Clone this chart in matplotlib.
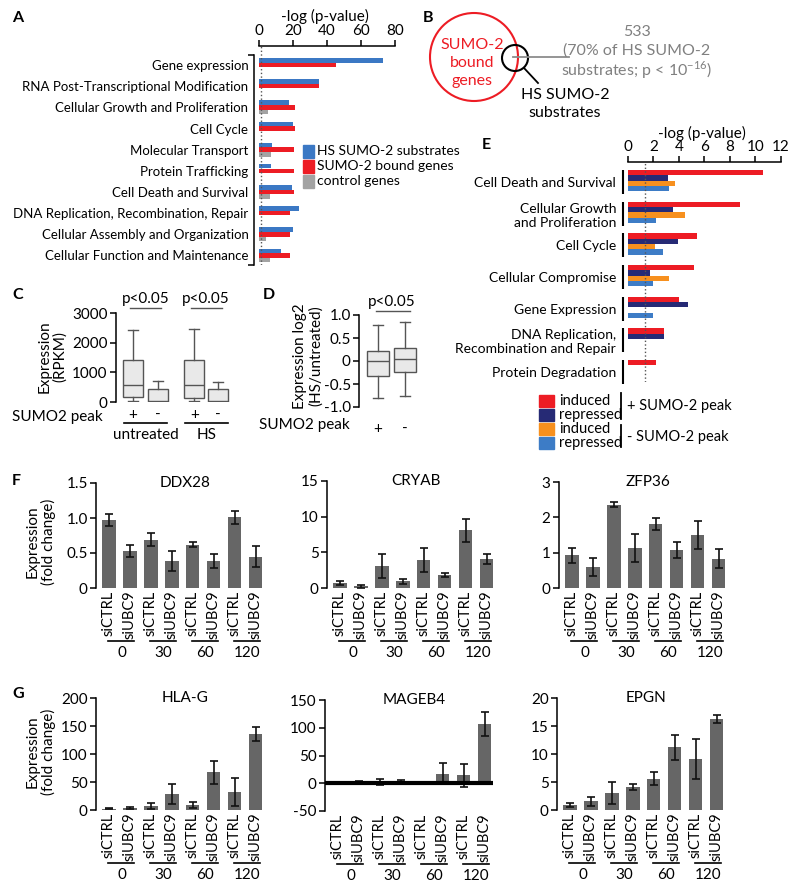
import matplotlib
matplotlib.use("Agg")
import matplotlib.pyplot as plt
from matplotlib.patches import Circle, Rectangle
from matplotlib.transforms import blended_transform_factory as blend
import numpy as np

plt.rcParams['font.family'] = ['Lato', 'DejaVu Sans']
plt.rcParams['font.size'] = 11
plt.rcParams['mathtext.fontset'] = 'custom'
plt.rcParams['mathtext.rm'] = 'Lato'
plt.rcParams['axes.linewidth'] = 1.1
plt.rcParams['xtick.major.width'] = 1.1
plt.rcParams['ytick.major.width'] = 1.1
plt.rcParams['ytick.minor.width'] = 1.1
plt.rcParams['xtick.major.size'] = 4
plt.rcParams['ytick.major.size'] = 4

# ---- data ----
# A: GO terms, -log(p)
a_terms = ["Gene expression", "RNA Post-Transcriptional Modification",
           "Cellular Growth and Proliferation", "Cell Cycle", "Molecular Transport",
           "Protein Trafficking", "Cell Death and Survival",
           "DNA Replication, Recombination, Repair",
           "Cellular Assembly and Organization", "Cellular Function and Maintenance"]
a_hs = [72.7, 35.2, 17.7, 20.2, 7.7, 7.3, 19.3, 23.4, 19.8, 12.8]
a_bound = [45.2, 35.2, 21.4, 21.2, 20.6, 20.6, 20.4, 18.1, 18.1, 18.1]
a_ctrl = [0, 0, 5.5, 0, 7.0, 0, 6.7, 0, 4.3, 6.7]
a_names = ["HS SUMO-2 substrates", "SUMO-2 bound genes", "control genes"]
a_colors = ["#3b78c4", "#ed1c24", "#a3a3a3"]

# B: overlap
b_overlap = 533
b_pct = 70

# C: expression boxplots (RPKM)
c_groups = ["untreated", "HS"]
c_peak = ["+", "-", "+", "-"]
c_whislo = [20, 0, 22, 0]
c_q1 = [169, 0, 146, 0]
c_med = [584, 20, 562, 22]
c_q3 = [1427, 450, 1427, 450]
c_whishi = [2439, 708, 2473, 674]

# D: log2 HS/untreated
d_peak = ["+", "-"]
d_whislo = [-0.80, -0.76]
d_q1 = [-0.32, -0.24]
d_med = [-0.01, 0.05]
d_q3 = [0.21, 0.28]
d_whishi = [0.78, 0.84]

# E
e_terms = ["Cell Death and Survival", "Cellular Growth\nand Proliferation", "Cell Cycle",
           "Cellular Compromise", "Gene Expression",
           "DNA Replication,\nRecombination and Repair", "Protein Degradation"]
e_ind_peak = [10.55, 8.77, 5.45, 5.15, 4.0, 2.8, 2.17]
e_rep_peak = [3.14, 3.5, 3.9, 1.7, 4.74, 2.8, 0]
e_ind_nopeak = [3.7, 4.5, 2.1, 3.25, 0, 0, 0]
e_rep_nopeak = [3.2, 2.17, 2.75, 1.96, 1.96, 0, 0]
e_colors = ["#ed1c24", "#262a75", "#f7901e", "#3d7cc6"]
e_names = ["induced", "repressed", "induced", "repressed"]

# F / G: qPCR
times = ["0", "30", "60", "120"]
conds = ["siCTRL", "siUBC9"]
ddx28 = [0.97, 0.53, 0.69, 0.39, 0.62, 0.39, 1.01, 0.45]
ddx28_err = [0.09, 0.09, 0.09, 0.14, 0.04, 0.10, 0.09, 0.15]
cryab = [0.75, 0.23, 3.04, 0.93, 3.9, 1.8, 8.1, 4.07]
cryab_err = [0.3, 0.2, 1.7, 0.4, 1.7, 0.25, 1.6, 0.75]
zfp36 = [0.92, 0.59, 2.36, 1.13, 1.82, 1.08, 1.5, 0.83]
zfp36_err = [0.21, 0.25, 0.06, 0.39, 0.17, 0.23, 0.39, 0.26]
hlag = [2, 3, 7.3, 28.5, 9, 67, 31.5, 136]
hlag_err = [1, 2, 5, 18, 6, 21, 25, 13]
mageb4 = [1, 2, 2, 3, 1, 17, 14, 107]
mageb4_err = [1, 2, 6, 3, 1, 19, 20, 22]
epgn = [0.9, 1.56, 3.0, 4.1, 5.6, 11.2, 9.1, 16.2]
epgn_err = [0.4, 0.8, 2.0, 0.6, 1.2, 2.2, 3.5, 0.7]

W, H = 800, 890
fig = plt.figure(figsize=(8, 8.9), dpi=100)


def box(l, t, r, b):
    ax = fig.add_axes([l / W, 1 - b / H, (r - l) / W, (b - t) / H])
    ax.px = (l, t, r, b)
    return ax


def yf(ax, ypix):
    l, t, r, b = ax.px
    return (b - ypix) / (b - t)


ov = fig.add_axes([0, 0, 1, 1], zorder=10)
ov.set_xlim(0, W)
ov.set_ylim(H, 0)
ov.axis('off')
ov.patch.set_alpha(0)

for lab, x, y in [("A", 12, 18), ("B", 423, 18), ("C", 12, 295), ("D", 263, 295),
                  ("E", 482, 145), ("F", 12, 481), ("G", 12, 694)]:
    ov.text(x, y, lab, fontsize=11.5, fontweight='bold', ha='left', va='center')

# ---- A ----
axA = box(254, 46, 395, 265)
ya = np.arange(len(a_terms))
for k, (vals, col) in enumerate(zip([a_hs, a_bound, a_ctrl], a_colors)):
    axA.barh(ya + (k - 1) * 0.22, vals, height=0.21, color=col)
axA.set_xlim(-3, 80)
axA.set_ylim(9.45, -0.9)
axA.xaxis.tick_top()
axA.set_xticks([0, 20, 40, 60, 80])
axA.xaxis.set_label_position('top')
axA.set_xlabel('-log (p-value)', labelpad=2)
axA.spines['top'].set_bounds(0, 80)
axA.spines[['right', 'bottom']].set_visible(False)
axA.spines['left'].set_bounds(-0.48, 9.45)
axA.set_yticks(ya, a_terms, fontsize=9.5)
axA.tick_params(axis='y', length=0, pad=4)
axA.set_yticks([-0.48, 9.45], minor=True)
axA.tick_params(axis='y', which='minor', length=4)
axA.tick_params(axis='x', pad=2)
axA.axvline(1.3, ls=':', color='#555555', lw=1)
for i, (nm, col) in enumerate(zip(a_names, a_colors)):
    yy = 151 + i * 15
    ov.add_patch(Rectangle((303, yy - 6.5), 11, 13, color=col))
    ov.text(317, yy, nm, fontsize=10, va='center', ha='left')

# ---- B ----
ov.add_patch(Circle((474, 57), 44, fill=False, ec='#ed1c24', lw=1.5))
ov.add_patch(Circle((515, 58), 13, fill=False, ec='k', lw=1.5))
ov.plot([513, 569], [57, 57], color='#8c8c8c', lw=1.3)
ov.plot([524, 538], [68, 83], color='k', lw=1.3)
for s, y in zip(["SUMO-2", "bound", "genes"], [45, 63, 81]):
    ov.text(472, y, s, color='#ed1c24', fontsize=11.5, ha='center', va='center')
ov.text(637, 32, str(b_overlap), color='#808080', fontsize=11.5, ha='center', va='center')
ov.text(637, 51, "(%d%% of HS SUMO-2" % b_pct, color='#808080', fontsize=11.5,
        ha='center', va='center')
ov.text(637, 70, r"substrates; p < 10$^{-16}$)", color='#808080', fontsize=11.5,
        ha='center', va='center')
ov.text(565, 95, "HS SUMO-2", fontsize=11.5, ha='center', va='center')
ov.text(565, 113, "substrates", fontsize=11.5, ha='center', va='center')

# ---- C ----
boxkw = dict(patch_artist=True, showfliers=False, manage_ticks=False,
             boxprops=dict(facecolor='#e9e9e9', edgecolor='#555555', lw=1),
             whiskerprops=dict(color='#555555', lw=1),
             capprops=dict(color='#555555', lw=1),
             medianprops=dict(color='#555555', lw=1))
axC = box(116, 313, 232, 402)
pos_c = [1, 2, 3.45, 4.4]
stats_c = [dict(med=m, q1=a, q3=b, whislo=lo, whishi=hi, fliers=[])
           for lo, a, m, b, hi in zip(c_whislo, c_q1, c_med, c_q3, c_whishi)]
axC.bxp(stats_c, positions=pos_c, widths=0.8, capwidths=0.4, **boxkw)
axC.set_xlim(0.32, 4.96)
axC.set_ylim(0, 3000)
axC.set_yticks([0, 1000, 2000, 3000])
axC.tick_params(axis='y', pad=2)
axC.spines[['right', 'top', 'bottom']].set_visible(False)
axC.set_xticks(pos_c, c_peak)
axC.tick_params(axis='x', length=0, pad=4)
tc = blend(axC.transData, axC.transAxes)
for g, name in enumerate(c_groups):
    cx = (pos_c[2 * g] + pos_c[2 * g + 1]) / 2
    axC.plot([cx - 0.86, cx + 0.86], [yf(axC, 423)] * 2, color='k', lw=1.2,
             transform=tc, clip_on=False)
    axC.text(cx, yf(axC, 435), name, transform=tc, ha='center', va='center')
    axC.plot([cx - 0.62, cx + 0.62], [yf(axC, 308)] * 2, color='#555555', lw=1,
             transform=tc, clip_on=False)
    axC.text(cx, yf(axC, 299), "p<0.05", transform=tc, ha='center', va='center')
ov.text(103, 417, "SUMO2 peak", ha='right', va='center')
ov.text(52, 357, "Expression\n(RPKM)", rotation=90, ha='center', va='center',
        multialignment='center', linespacing=1.1)

# ---- D ----
axD = box(359, 315, 422, 407)
pos_d = [1, 2]
stats_d = [dict(med=m, q1=a, q3=b, whislo=lo, whishi=hi, fliers=[])
           for lo, a, m, b, hi in zip(d_whislo, d_q1, d_med, d_q3, d_whishi)]
axD.bxp(stats_d, positions=pos_d, widths=0.81, capwidths=0.37, **boxkw)
axD.set_xlim(0.3, 2.63)
axD.set_ylim(-1, 1)
axD.set_yticks([1, 0.5, 0, -0.5, -1], ["1.0", "0.5", "0", "-0.5", "-1.0"])
axD.tick_params(axis='y', pad=2)
axD.spines[['right', 'top', 'bottom']].set_visible(False)
axD.set_xticks(pos_d, d_peak)
axD.tick_params(axis='x', length=0, pad=11)
td = blend(axD.transData, axD.transAxes)
axD.plot([0.92, 2.2], [yf(axD, 311)] * 2, color='#555555', lw=1, transform=td, clip_on=False)
axD.text(1.5, yf(axD, 302), "p<0.05", transform=td, ha='center', va='center')
ov.text(350, 425, "SUMO2 peak", ha='right', va='center')
ov.text(308, 356, "Expression log2\n(HS/untreated)", rotation=90, ha='center',
        va='center', multialignment='center', linespacing=1.1)

# ---- E ----
axE = box(623, 162, 781, 382)
ye = np.arange(len(e_terms))
hb = 0.17
for k, (vals, col) in enumerate(zip([e_ind_peak, e_rep_peak, e_ind_nopeak, e_rep_nopeak],
                                    e_colors)):
    axE.barh(ye + (k - 1.5) * hb - 0.04, vals, height=hb, color=col)
axE.set_xlim(-0.39, 12)
axE.set_ylim(6.32, -0.63)
axE.xaxis.tick_top()
axE.set_xticks(range(0, 13, 2))
axE.xaxis.set_label_position('top')
axE.set_xlabel('-log (p-value)', labelpad=1)
axE.tick_params(axis='x', pad=2)
axE.spines['top'].set_bounds(0, 12)
axE.spines[['right', 'bottom', 'left']].set_visible(False)
axE.set_yticks(ye, e_terms, fontsize=10)
axE.tick_params(axis='y', length=0, pad=5)
axE.vlines(np.full(len(ye), -0.39), ye - 0.38, ye + 0.38, color='k', lw=1.5, clip_on=False)
axE.axvline(1.3, ls=':', color='#555555', lw=1)
for i, (nm, col) in enumerate(zip(e_names, e_colors)):
    yy = 401 + i * 14
    ov.add_patch(Rectangle((539, yy - 5.8), 15, 11.6, color=col))
    ov.text(559, yy, nm, fontsize=10.5, va='center', ha='left')
ov.plot([621, 621], [393, 419], color='k', lw=1.3)
ov.plot([621, 621], [425, 447], color='k', lw=1.3)
ov.text(627, 406, "+ SUMO-2 peak", fontsize=10.5, va='center', ha='left')
ov.text(627, 437, "- SUMO-2 peak", fontsize=10.5, va='center', ha='left')


# ---- F / G ----
def bar_panel(l, t, b, vals, errs, ticks, ticklabels, ylim, title, zero_line=False):
    ax = box(l, t, l + 168, b)
    x = np.arange(len(vals))
    ax.bar(x, vals, width=0.64, color='#666666', yerr=errs, capsize=3,
           error_kw=dict(elinewidth=1.2, capthick=1.2, ecolor='#111111'))
    if zero_line:
        ax.axhline(0, color='k', lw=3, zorder=3)
    ax.set_xlim(-0.62, 7.4)
    ax.set_ylim(*ylim)
    ax.set_yticks(ticks, ticklabels)
    ax.tick_params(axis='y', pad=2)
    ax.spines['left'].set_bounds(*ylim)
    ax.spines[['right', 'top', 'bottom']].set_visible(False)
    ax.set_xticks(x, conds * len(times), rotation=90, fontsize=10.5)
    ax.tick_params(axis='x', length=0, pad=2)
    ax.text(0.53, 1.0, title, transform=ax.transAxes, ha='center', va='center')
    tr = blend(ax.transData, ax.transAxes)
    for g, tm in enumerate(times):
        ax.plot([2 * g - 0.05, 2 * g + 1.2], [yf(ax, b + 53)] * 2, color='k', lw=1.2,
                transform=tr, clip_on=False)
        ax.text(2 * g + 0.6, yf(ax, b + 65), tm, transform=tr, ha='center', va='center')
    return ax


bar_panel(96, 483, 588, ddx28, ddx28_err, [0, 0.5, 1.0, 1.5], ["0", "0.5", "1.0", "1.5"],
          (0, 1.5), "DDX28")
bar_panel(327, 481, 588, cryab, cryab_err, [0, 5, 10, 15], ["0", "5", "10", "15"],
          (0, 15), "CRYAB")
bar_panel(559, 482, 588, zfp36, zfp36_err, [0, 1, 2, 3], ["0", "1", "2", "3"],
          (0, 3), "ZFP36")
bar_panel(96, 698, 810, hlag, hlag_err, [0, 50, 100, 150, 200],
          ["0", "50", "100", "150", "200"], (0, 200), "HLA-G")
bar_panel(325, 700, 811, mageb4, mageb4_err, [-50, 0, 50, 100, 150],
          ["-50", "0", "50", "100", "150"], (-50, 150), "MAGEB4", zero_line=True)
bar_panel(557, 698, 810, epgn, epgn_err, [0, 5, 10, 15, 20],
          ["0", "5", "10", "15", "20"], (0, 20), "EPGN")
ov.text(41, 542, "Expression\n(fold change)", rotation=90, ha='center', va='center',
        multialignment='center', linespacing=1.1)
ov.text(41, 752, "Expression\n(fold change)", rotation=90, ha='center', va='center',
        multialignment='center', linespacing=1.1)

fig.savefig("out.png", dpi=100)
